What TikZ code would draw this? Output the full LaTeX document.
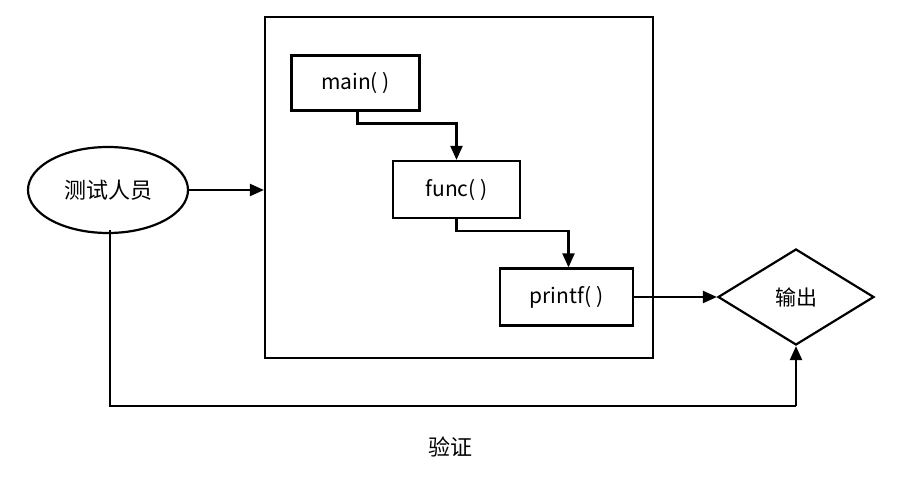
\documentclass[tikz,border=0pt]{standalone}
\usepackage{fontspec}
\setmainfont{Noto Sans CJK SC}
\usetikzlibrary{shapes.geometric,arrows.meta}
\begin{document}
\begin{tikzpicture}[x=1pt,y=-1pt,
  box/.style={draw,line width=2.2pt,minimum width=128pt,minimum height=55pt,font=\fontsize{21}{24}\selectfont},
  conn/.style={line width=2.2pt,-{Triangle[length=14pt,width=12pt]}}]
\useasboundingbox (0,0) rectangle (898,486);
\node[draw,line width=2.2pt,minimum width=388pt,minimum height=341pt] (big) at (459,187.5) {};
\node[box] (main) at (355.5,83) {main( )};
\node[box,minimum width=127pt,minimum height=57pt] (func) at (456.5,189.5) {func( )};
\node[box,minimum width=133pt,minimum height=57pt] (printf) at (566.5,297) {printf( )};
\node[draw,ellipse,line width=2.2pt,minimum width=160pt,minimum height=86pt,font=\fontsize{22}{26}\selectfont] (tester) at (108,190) {测试人员};
\node[draw,diamond,line width=2.2pt,minimum width=156pt,minimum height=96pt,inner sep=0pt,font=\fontsize{21}{24}\selectfont] (out) at (796,297) {输出};
\node[font=\fontsize{22}{26}\selectfont] (verify) at (450,447) {验证};
\coordinate (bl) at (110,406);
\coordinate (br) at (796,406);
\draw[conn] (tester.east) -- (tester.east -| big.west);
\draw[conn] ([xshift=2pt]main.south) -- ++(0,12) -| (func.north);
\draw[conn] (func.south) -- ++(0,12) -| ([xshift=2pt]printf.north);
\draw[conn] (printf.east) -- (out.west);
\draw[line width=2.2pt] (110,230) -- (bl) -- (br);
\draw[conn] (br) -- (out.south);
\end{tikzpicture}
\end{document}
